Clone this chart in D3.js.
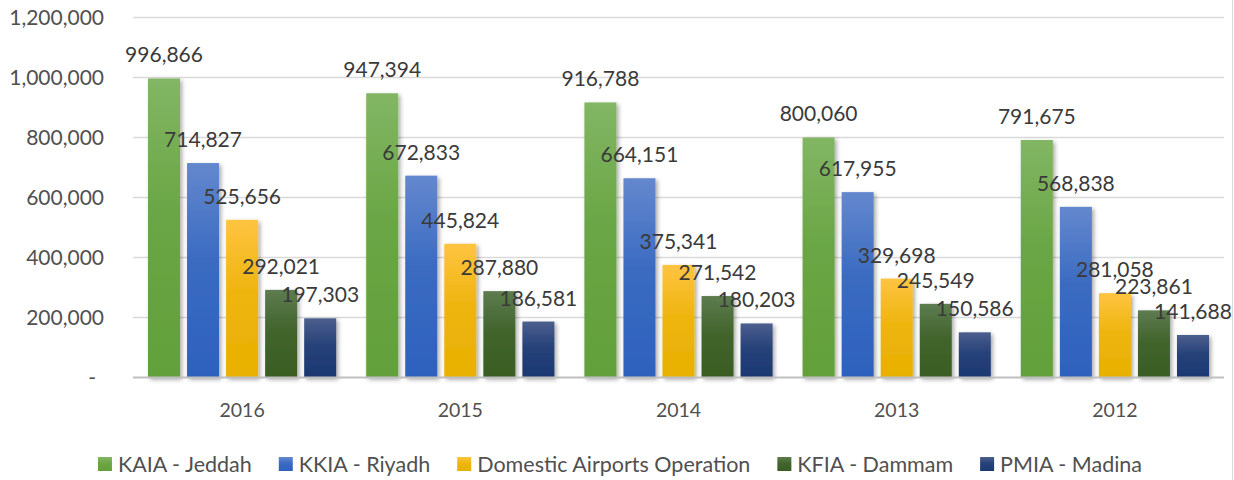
<!DOCTYPE html>
<html lang="en">
<head>
<meta charset="UTF-8" />
<title>Airport passengers by year</title>
<script src="https://cdn.jsdelivr.net/npm/d3@7"></script>
<style>
  body { margin: 0; background: #fff; }
  text { font-family: Lato, "Liberation Sans", sans-serif; }
</style>
</head>
<body>
<svg id="chart" width="1234" height="480"></svg>
<script>
// data
const years = ["2016", "2015", "2014", "2013", "2012"];
const seriesNames = ["KAIA - Jeddah", "KKIA - Riyadh", "Domestic Airports Operation", "KFIA - Dammam", "PMIA - Madina"];
const kaia = [996866, 947394, 916788, 800060, 791675];
const kkia = [714827, 672833, 664151, 617955, 568838];
const domestic = [525656, 445824, 375341, 329698, 281058];
const kfia = [292021, 287880, 271542, 245549, 223861];
const pmia = [197303, 186581, 180203, 150586, 141688];
const yTicks = [0, 200000, 400000, 600000, 800000, 1000000, 1200000];

const allSeries = [kaia, kkia, domestic, kfia, pmia];
// gradient top / bottom per series
const colors = [
    ["#82b664", "#62a03a"],
    ["#6488ce", "#2d61bd"],
    ["#ffc441", "#e8b000"],
    ["#5d7c4f", "#395d22"],
    ["#4c5f8e", "#1b3872"]
];

const svg = d3.select("#chart");
const plotLeft = 133, plotRight = 1224, plotTop = 17.5, plotBottom = 377.5;

const y = d3.scaleLinear().domain([0, 1200000]).range([plotBottom, plotTop]);
const x0 = d3.scaleBand().domain(years).range([plotLeft, plotRight]);
const x1 = d3.scaleBand().domain(d3.range(5)).range([15, x0.bandwidth() - 15]).paddingInner(0.18);

const defs = svg.append("defs");
colors.forEach((c, i) => {
    const g = defs.append("linearGradient").attr("id", "grad" + i)
        .attr("x1", 0).attr("y1", 0).attr("x2", 0).attr("y2", 1);
    g.append("stop").attr("offset", "0%").attr("stop-color", c[0]);
    g.append("stop").attr("offset", "45%").attr("stop-color", d3.interpolateRgb(c[0], c[1])(0.75));
    g.append("stop").attr("offset", "100%").attr("stop-color", c[1]);
});
const shadow = defs.append("filter").attr("id", "shadow")
    .attr("x", "-30%").attr("y", "-10%").attr("width", "160%").attr("height", "130%");
shadow.append("feDropShadow").attr("dx", 2).attr("dy", 2).attr("stdDeviation", 2.2)
    .attr("flood-color", "#000").attr("flood-opacity", 0.35);

// right border
svg.append("line").attr("x1", 1232.5).attr("x2", 1232.5).attr("y1", 0).attr("y2", 480)
    .attr("stroke", "#d9d9d9").attr("stroke-width", 1);

// gridlines
svg.append("g").selectAll("line")
    .data(yTicks.slice(1))
    .join("line")
    .attr("x1", plotLeft).attr("x2", plotRight)
    .attr("y1", d => y(d)).attr("y2", d => y(d))
    .attr("stroke", "#d9d9d9").attr("stroke-width", 1.5);

// y labels
svg.append("g").selectAll("text")
    .data(yTicks)
    .join("text")
    .attr("x", d => d === 0 ? 96 : 104)
    .attr("y", d => y(d))
    .attr("dy", "0.36em")
    .attr("text-anchor", "end")
    .attr("font-size", 21)
    .attr("fill", "#505050")
    .text(d => d === 0 ? "-" : d3.format(",")(d));

// bars
const groups = svg.append("g").selectAll("g")
    .data(years)
    .join("g")
    .attr("transform", d => `translate(${x0(d)},0)`);

groups.selectAll("rect")
    .data((d, yi) => allSeries.map((s, si) => ({ si: si, v: s[yi] })))
    .join("rect")
    .attr("x", d => x1(d.si))
    .attr("y", d => y(d.v))
    .attr("width", x1.bandwidth())
    .attr("height", d => y(0) - y(d.v))
    .attr("fill", d => `url(#grad${d.si})`)
    .attr("filter", "url(#shadow)");

// baseline
svg.append("line").attr("x1", plotLeft).attr("x2", plotRight)
    .attr("y1", y(0)).attr("y2", y(0))
    .attr("stroke", "#bfbfbf").attr("stroke-width", 2);

// value labels
groups.selectAll("text.val")
    .data((d, yi) => allSeries.map((s, si) => ({ si: si, v: s[yi] })))
    .join("text")
    .attr("class", "val")
    .attr("x", d => x1(d.si) + x1.bandwidth() / 2)
    .attr("y", d => y(d.v) - 16)
    .attr("text-anchor", "middle")
    .attr("font-size", 21)
    .attr("fill", "#3a3a3a")
    .text(d => d3.format(",")(d.v));

// x labels
svg.append("g").selectAll("text")
    .data(years)
    .join("text")
    .attr("x", d => x0(d) + x0.bandwidth() / 2)
    .attr("y", 417)
    .attr("text-anchor", "middle")
    .attr("font-size", 19.5)
    .attr("fill", "#505050")
    .text(d => d);

// legend
const legend = svg.append("g");
const items = legend.selectAll("g")
    .data(seriesNames)
    .join("g");
items.append("rect")
    .attr("width", 14).attr("height", 14)
    .attr("y", 457)
    .attr("fill", (d, i) => `url(#grad${i})`);
items.append("text")
    .attr("x", 20)
    .attr("y", 464)
    .attr("dy", "0.36em")
    .attr("font-size", 21.5)
    .attr("fill", "#505050")
    .text(d => d);
let pos = 0;
const offsets = [];
items.each(function () {
    offsets.push(pos);
    pos += 20 + d3.select(this).select("text").node().getComputedTextLength() + 27;
});
const total = pos - 27;
const startX = 620 - total / 2;
items.attr("transform", (d, i) => `translate(${startX + offsets[i]},0)`);
</script>
</body>
</html>
